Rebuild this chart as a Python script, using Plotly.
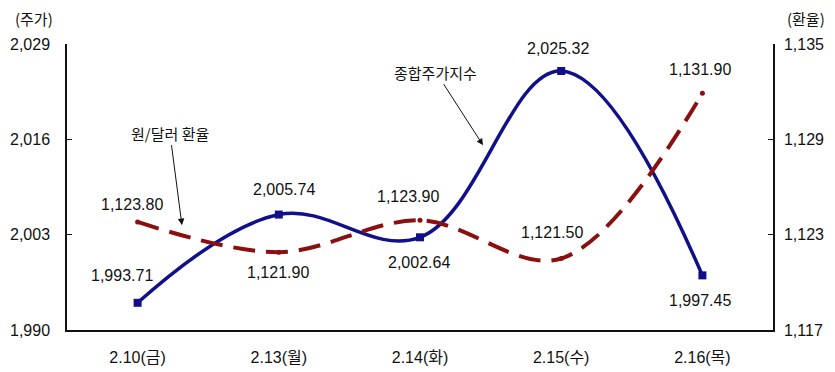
import plotly.graph_objects as go

categories = ["2.10(금)", "2.13(월)", "2.14(화)", "2.15(수)", "2.16(목)"]
kospi = [1993.71, 2005.74, 2002.64, 2025.32, 1997.45]
fx = [1123.80, 1121.90, 1123.90, 1121.50, 1131.90]
kospi_labels = ["1,993.71", "2,005.74", "2,002.64", "2,025.32", "1,997.45"]
fx_labels = ["1,123.80", "1,121.90", "1,123.90", "1,121.50", "1,131.90"]
left_ticks = [1990, 2003, 2016, 2029]
right_ticks = [1117, 1123, 1129, 1135]

FONT = "Liberation Sans, Arial"
KFONT = "Noto Sans CJK KR"
BLUE = "#10108a"
RED = "#8a1010"
NUMSIZE = 16

fig = go.Figure()
fig.add_trace(go.Scatter(
    x=categories, y=kospi, mode="lines+markers", line=dict(color=BLUE, width=3.5, shape="spline", smoothing=1.1),
    marker=dict(symbol="square", size=8, color=BLUE), showlegend=False, yaxis="y", cliponaxis=False))
fig.add_trace(go.Scatter(
    x=categories, y=fx, mode="lines+markers", line=dict(color=RED, width=4, shape="spline", smoothing=1.0, dash="22px,11px"),
    marker=dict(symbol="circle", size=5, color=RED), showlegend=False, yaxis="y2", cliponaxis=False))

# data label offsets in px (dx, dy downward)
k_pos = [(-16, -27), (5, -25), (-1, 25), (-3, -22), (-2, 25)]
f_pos = [(-6, -17), (-1, 20), (-12, -24), (-9, -26), (-2, -24)]
for i, c in enumerate(categories):
    fig.add_annotation(x=c, y=kospi[i], xref="x", yref="y", text=kospi_labels[i], showarrow=False,
                       xshift=k_pos[i][0], yshift=-k_pos[i][1], font=dict(family=FONT, size=NUMSIZE, color="#111"))
    fig.add_annotation(x=c, y=fx[i], xref="x", yref="y2", text=fx_labels[i], showarrow=False,
                       xshift=f_pos[i][0], yshift=-f_pos[i][1], font=dict(family=FONT, size=NUMSIZE, color="#111"))

# callouts
fig.add_annotation(x=2.446, y=2015.2, xref="x", yref="y", ax=-47, ay=-73, text="종합주가지수",
                   showarrow=True, arrowhead=2, arrowsize=1.3, arrowwidth=1, arrowcolor="#111",
                   font=dict(family=KFONT, size=15, color="#111"))
fig.add_annotation(x=0.314, y=2004.3, xref="x", yref="y", ax=-12, ay=-92, text="원/달러 환율",
                   showarrow=True, arrowhead=2, arrowsize=1.3, arrowwidth=1, arrowcolor="#111",
                   font=dict(family=KFONT, size=15, color="#111"))
# axis titles
fig.add_annotation(x=0, y=1, xref="paper", yref="paper", xanchor="center", yanchor="middle", xshift=-33, yshift=26,
                   text="(주가)", showarrow=False, font=dict(family=KFONT, size=15, color="#111"))
fig.add_annotation(x=1, y=1, xref="paper", yref="paper", xanchor="center", yanchor="middle", xshift=33, yshift=26,
                   text="(환율)", showarrow=False, font=dict(family=KFONT, size=15, color="#111"))

fig.update_layout(
    width=835, height=372, margin=dict(l=67, r=62, t=44, b=42, autoexpand=False),
    plot_bgcolor="white", paper_bgcolor="white",
    xaxis=dict(type="category", range=[-0.5, 4.5], showgrid=False, showline=True, linecolor="#111", linewidth=1.5,
               automargin=False, ticks="", ticklabelstandoff=12,
               tickfont=dict(family=FONT + ", " + KFONT, size=NUMSIZE, color="#111")),
    yaxis=dict(range=[1990, 2029], tickvals=left_ticks, ticktext=[f"{v:,}" for v in left_ticks], showgrid=False,
               automargin=False, showline=True, linecolor="#111", linewidth=1.5, ticks="inside", ticklen=5,
               tickcolor="#111", ticklabelstandoff=12, tickfont=dict(family=FONT, size=NUMSIZE, color="#111"),
               zeroline=False),
    yaxis2=dict(range=[1117, 1135], tickvals=right_ticks, ticktext=[f"{v:,}" for v in right_ticks], overlaying="y",
                automargin=False, side="right", showgrid=False, showline=True, linecolor="#111", linewidth=1.5,
                ticks="inside", ticklen=5, tickcolor="#111", ticklabelstandoff=6,
                tickfont=dict(family=FONT, size=NUMSIZE, color="#111"), zeroline=False),
)
fig.write_html("out.html")
